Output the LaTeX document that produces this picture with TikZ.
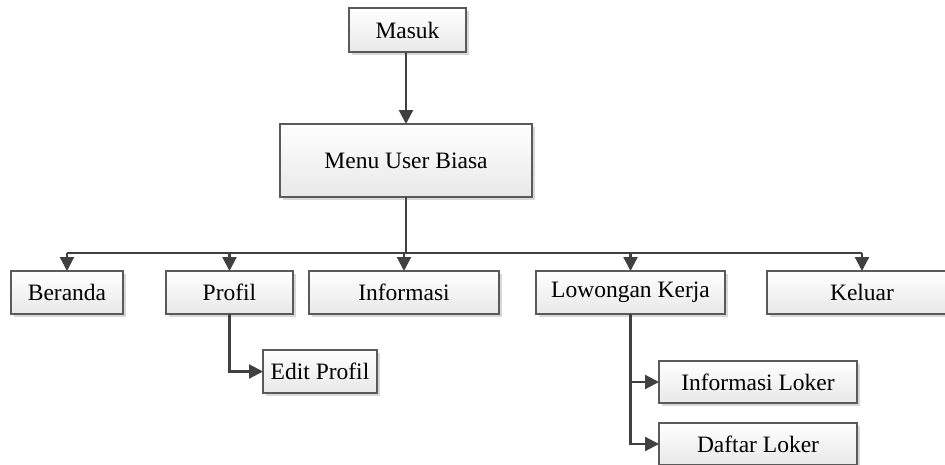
\documentclass[tikz,border=0pt]{standalone}
\usepackage{fontspec}
\setmainfont{Liberation Serif}
\usetikzlibrary{arrows.meta,shadows}
\definecolor{linec}{HTML}{404040}
\definecolor{boxc}{HTML}{5A5A5A}
\tikzset{
  menubox/.style={draw=boxc, line width=1.1pt, top color=white, bottom color=black!9,
    drop shadow={shadow xshift=2.5pt, shadow yshift=-2.5pt, fill=black!30, opacity=0.5},
    font=\fontsize{23.5}{28}\selectfont, inner sep=0pt, outer sep=0pt, anchor=north west},
  conn/.style={draw=linec, line width=2.2pt},
  arr/.style={conn, -{Triangle[length=14pt,width=14pt]}}
}
\begin{document}
\begin{tikzpicture}[x=1pt,y=-1pt]
\fill[white] (0,0) rectangle (945,464);
\clip (0,0) rectangle (945,464);
\node[menubox, minimum width=117pt, minimum height=44pt] (masuk) at (349,8) {Masuk};
\node[menubox, minimum width=252pt, minimum height=73pt] (menu) at (280,124) {Menu User Biasa};
\node[menubox, minimum width=112pt, minimum height=43pt] (beranda) at (11,271) {Beranda};
\node[menubox, minimum width=127pt, minimum height=43pt] (profil) at (166,271) {Profil};
\node[menubox, minimum width=190pt, minimum height=43pt] (info) at (309,271) {Informasi};
\node[menubox, minimum width=189pt, minimum height=43pt] (loker) at (536,271) {Lowongan Kerja};
\node[menubox, minimum width=190pt, minimum height=43pt] (keluar) at (767,271) {Keluar};
\node[menubox, minimum width=114pt, minimum height=43pt] (edit) at (263,350) {Edit Profil};
\node[menubox, minimum width=198pt, minimum height=42pt] (infoloker) at (659,361) {Informasi Loker};
\node[menubox, minimum width=198pt, minimum height=42pt] (daftar) at (659,423) {Daftar Loker};
\coordinate (bus) at (406,253);
\draw[arr] (masuk.south -| menu.north) -- (menu.north);
\draw[conn] (menu.south) -- (bus);
\draw[conn] (beranda.north |- bus) -- (keluar.north |- bus);
\foreach \n in {beranda,profil,info,loker,keluar}
  \draw[arr] (\n.north |- bus) -- (\n.north);
\draw[arr] (profil.south) |- (edit.west);
\draw[arr] (loker.south) |- (infoloker.west);
\draw[arr] (loker.south) |- (daftar.west);
\end{tikzpicture}
\end{document}
